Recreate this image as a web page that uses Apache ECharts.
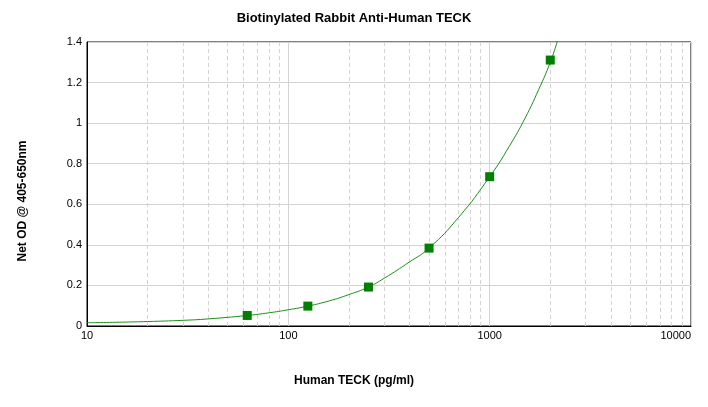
<!DOCTYPE html>
<html>
<head>
<meta charset="UTF-8">
<title>Biotinylated Rabbit Anti-Human TECK</title>
<script src="https://cdn.jsdelivr.net/npm/echarts@6/dist/echarts.min.js"></script>
<style>
  html, body { margin: 0; padding: 0; background: #fff; }
  #main { width: 708px; height: 407px; }
</style>
</head>
<body>
<div id="main"></div>
<script type="text/javascript">
// standards (pg/ml) and measured OD
var stdConc = [62.5, 125, 250, 500, 1000, 2000];
var stdOD = [0.052, 0.098, 0.192, 0.384, 0.736, 1.311];

// fitted curve
var curveConc = [10, 15, 20, 30, 40, 62.5, 80, 100, 125, 160, 200, 250, 300, 400, 500, 700, 1000, 1250, 1500, 1750, 2000, 2200];
var curveOD = [0.016, 0.019, 0.022, 0.028, 0.035, 0.052, 0.065, 0.080, 0.098, 0.124, 0.155, 0.192, 0.236, 0.316, 0.384, 0.535, 0.736, 0.885, 1.025, 1.165, 1.300, 1.425];

// minor log grid lines
var minorX = [20, 30, 40, 50, 60, 70, 80, 90,
              200, 300, 400, 500, 600, 700, 800, 900,
              2000, 3000, 4000, 5000, 6000, 7000, 8000, 9000];

var font = '"Liberation Sans", Arial, sans-serif';
var green = '#007f00';

var myChart = echarts.init(document.getElementById('main'));

myChart.setOption({
  animation: false,
  title: {
    text: 'Biotinylated Rabbit Anti-Human TECK',
    left: 'center',
    top: 7,
    textStyle: { fontFamily: font, fontSize: 13, fontWeight: 'bold', color: '#000' }
  },
  grid: {
    left: 87, right: 17, top: 42, bottom: 81,
    outerBoundsMode: 'none',
    containLabel: false,
    show: true, borderColor: '#000', borderWidth: 1, backgroundColor: 'transparent'
  },
  xAxis: {
    type: 'log',
    logBase: 10,
    min: 10,
    max: 10000,
    name: 'Human TECK (pg/ml)',
    nameLocation: 'middle',
    nameGap: 49,
    nameTextStyle: { fontFamily: font, fontSize: 12, fontWeight: 'bold', color: '#000', padding: [0, 70, 0, 0] },
    axisLine: { lineStyle: { color: '#000', width: 1 } },
    axisTick: { show: false },
    axisLabel: {
      fontFamily: font, fontSize: 11, color: '#000', margin: 4,
      alignMaxLabel: 'right',
      formatter: function (v) { return String(Math.round(v)); }
    },
    splitLine: { show: true, lineStyle: { color: '#d3d3d3', width: 1 } }
  },
  yAxis: {
    type: 'value',
    min: 0,
    max: 1.4,
    interval: 0.2,
    name: 'Net OD @ 405-650nm',
    nameLocation: 'middle',
    nameGap: 58,
    nameTextStyle: { fontFamily: font, fontSize: 12, fontWeight: 'bold', color: '#000', padding: [0, 34, 0, 0] },
    axisLine: { show: true, lineStyle: { color: '#000', width: 1 } },
    axisTick: { show: false },
    axisLabel: { fontFamily: font, fontSize: 11, color: '#000', margin: 5 },
    splitLine: { show: true, lineStyle: { color: '#d3d3d3', width: 1 } }
  },
  series: [{
    name: 'grid',
    type: 'line',
    data: [],
    silent: true,
    z: 0,
    markLine: {
      silent: true,
      z: 0,
      symbol: 'none',
      label: { show: false },
      emphasis: { disabled: true },
      lineStyle: { color: '#d3d3d3', type: [4, 3], width: 1 },
      data: minorX.map(function (v) { return { xAxis: v }; })
    }
  }, {
    name: 'fit',
    type: 'line',
    smooth: true,
    showSymbol: false,
    clip: true,
    lineStyle: { color: '#1a8f1a', width: 1 },
    data: curveConc.map(function (c, i) { return [c, curveOD[i]]; }),
    z: 5
  }, {
    name: 'standards',
    type: 'scatter',
    symbol: 'rect',
    symbolSize: 9,
    itemStyle: { color: green, borderWidth: 0, opacity: 1 },
    data: stdConc.map(function (c, i) { return [c, stdOD[i]]; }),
    z: 10
  }]
});
</script>
</body>
</html>
